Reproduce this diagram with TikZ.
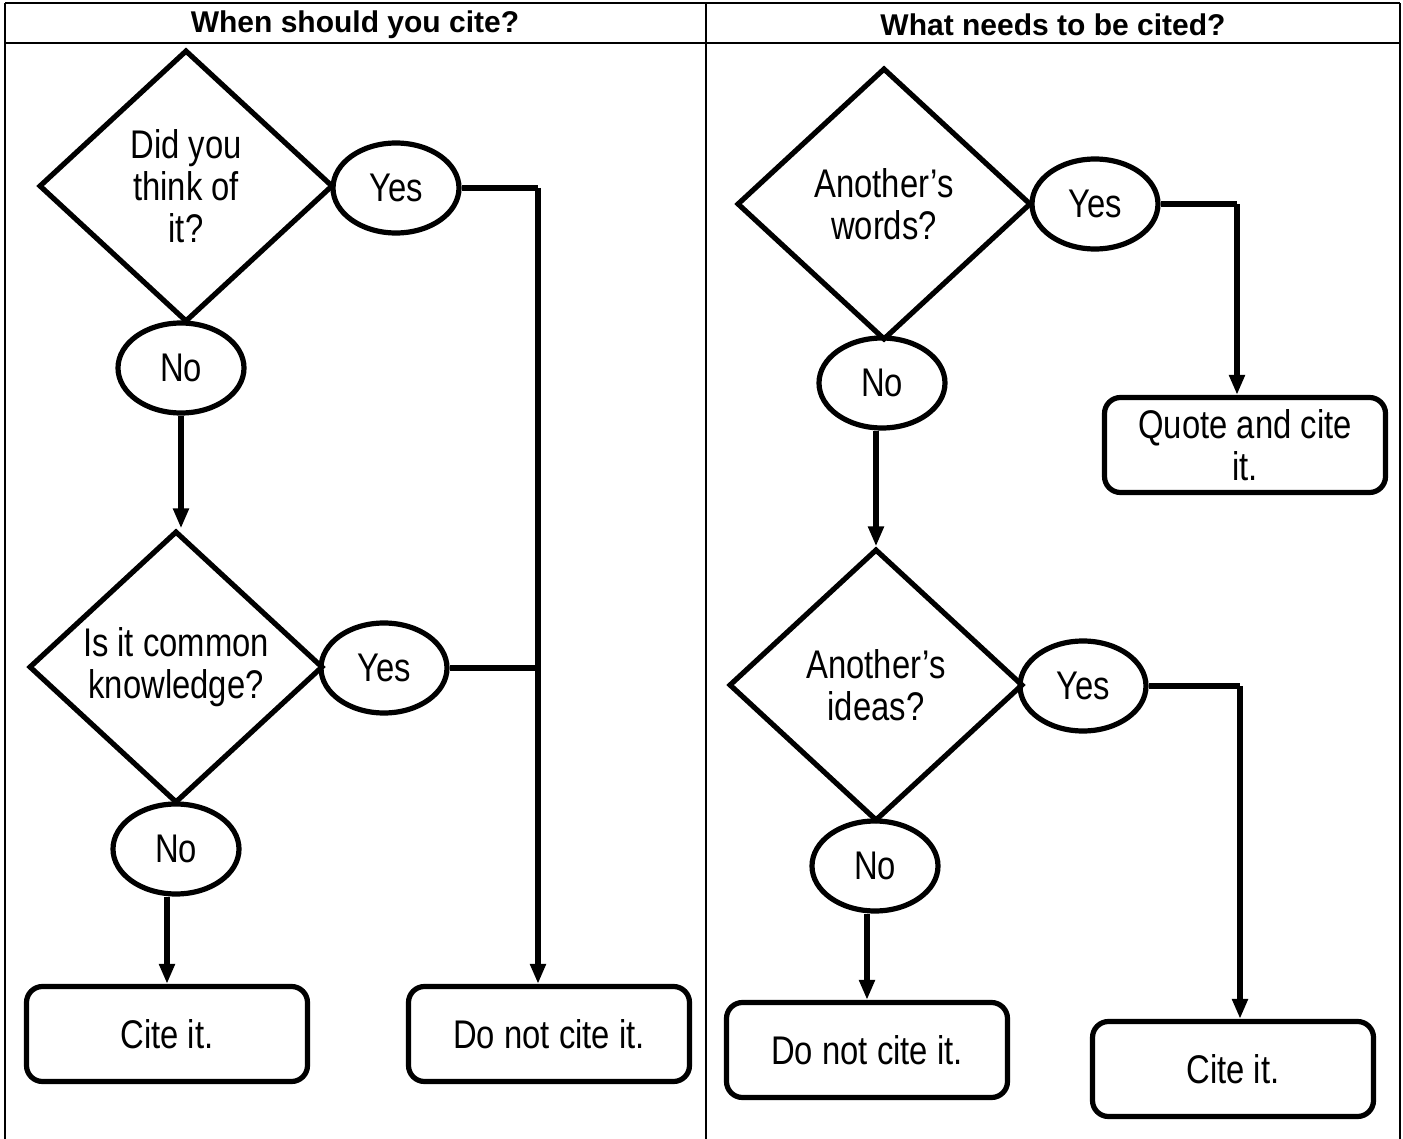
\documentclass[tikz,border=0pt]{standalone}
\usepackage{fontspec}
\setmainfont{Liberation Sans}
\newfontfamily\narrowsf[FakeStretch=0.82]{Liberation Sans}
\usetikzlibrary{shapes.geometric,arrows.meta}
\tikzset{
  decision/.style={diamond,draw,line width=2.6pt,inner sep=0pt,minimum width=147pt,minimum height=136pt,align=center},
  answer/.style={ellipse,draw,line width=2.6pt,inner sep=0pt,minimum width=63pt,minimum height=45pt},
  outcome/.style={rectangle,rounded corners=8pt,draw,line width=2.6pt,minimum width=140.5pt,minimum height=47.5pt,align=center},
  link/.style={line width=2.6pt},
  arr/.style={line width=2.6pt,-{Triangle[width=7.5pt,length=10pt]}},
  rule/.style={line width=1pt},
  heading/.style={font=\fontsize{15}{17}\selectfont\bfseries}
}
\begin{document}
\begin{tikzpicture}[x=.5pt,y=-.5pt,every node/.style={font=\narrowsf\fontsize{20}{21}\selectfont}]
		\useasboundingbox(0,0)rectangle(1403,1139);
		% table frame
		\draw[rule](5,3)--(1400,3);
		\draw[rule](5,43)--(1400,43);
		\draw[rule](5,3)--(5,1139);
		\draw[rule](706,3)--(706,1139);
		\draw[rule](1400,3)--(1400,1139);
		\node[heading](h1)at(355,25){When should you cite?};
		\node[heading](h2)at(1053,25){What needs to be cited?};
		% left column
		\node[decision](q1)at(186,186){Did you\\think of\\it?};
		\node[answer](y1)at(396,188){Yes};
		\node[answer](n1)at(181,368){No};
		\node[decision](q2)at(176,667){Is it common\\knowledge?};
		\node[answer](y2)at(384,668){Yes};
		\node[answer](n2)at(176,849){No};
		\node[outcome](c1)at(167,1034){Cite it.};
		\node[outcome](d1)at(549,1034){Do not cite it.};
		\coordinate(j1)at(538,188);
		\draw[link](y1.east)--(j1);
		\draw[arr](j1)--(j1|-d1.north);
		\draw[link](y2.east)--(y2.east-|j1);
		\draw[arr](n1.south)--(n1.south|-q2.north);
		\draw[arr](n2.south-|c1)--(c1.north);
		% right column
		\node[decision](q3)at(884,204){Another’s\\words?};
		\node[answer](y3)at(1095,204){Yes};
		\node[answer](n3)at(882,383){No};
		\node[outcome](qc)at(1245,445){Quote and cite\\it.};
		\node[decision](q4)at(876,685){Another’s\\ideas?};
		\node[answer](y4)at(1083,686){Yes};
		\node[answer](n4)at(875,866){No};
		\node[outcome](d2)at(867,1050){Do not cite it.};
		\node[outcome](c2)at(1233,1069){Cite it.};
		\coordinate(j2)at(1237,204);
		\coordinate(j3)at(1240,686);
		\draw[link](y3.east)--(j2);
		\draw[arr](j2)--(j2|-qc.north);
		\draw[link](y4.east)--(j3);
		\draw[arr](j3)--(j3|-c2.north);
		\draw[arr](n3.south-|q4)--(q4.north);
		\draw[arr](n4.south-|d2)--(d2.north);
\end{tikzpicture}
\end{document}
